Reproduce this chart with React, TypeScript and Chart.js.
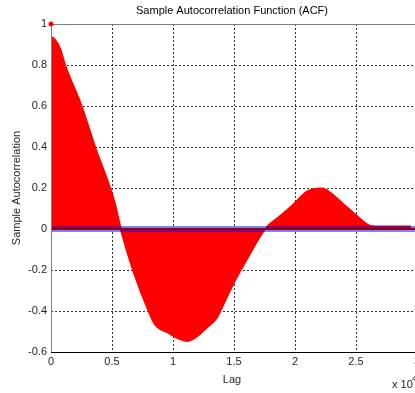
import React, { useEffect, useRef } from "react";
import { Chart, registerables } from "chart.js";

Chart.register(...registerables);

// Lags (x 10^4) and sample autocorrelation values
const lags = [0, 0.03, 0.074, 0.115, 0.25, 0.361, 0.484, 0.525, 0.572, 0.675, 0.806, 0.853, 0.962, 1.031, 1.113, 1.181, 1.277, 1.359, 1.413, 1.493, 1.605, 1.755, 1.879, 1.988, 2.098, 2.152, 2.221, 2.289, 2.398, 2.508, 2.617, 2.7, 2.8, 2.95];
const acf = [0.937, 0.925, 0.88, 0.8, 0.6, 0.4, 0.2, 0.12, 0, -0.205, -0.408, -0.465, -0.506, -0.53, -0.546, -0.53, -0.48, -0.433, -0.367, -0.268, -0.148, 0, 0.063, 0.12, 0.182, 0.194, 0.197, 0.177, 0.12, 0.063, 0.015, 0.012, 0.012, 0.012];
const lagZeroValue = 1;
const confBound = 0.01;
const xTicks = [0, 0.5, 1, 1.5, 2, 2.5, 3];
const yTicks = [-0.6, -0.4, -0.2, 0, 0.2, 0.4, 0.6, 0.8, 1];

const FONT = "'Liberation Sans', Arial, sans-serif";

const textPlugin = {
  id: "matlabText",
  beforeDatasetsDraw(chart: any) {
    const { ctx, chartArea } = chart;
    ctx.save();
    ctx.setLineDash([]);
    ctx.lineWidth = 1;
    ctx.strokeStyle = "#808080";
    ctx.beginPath();
    ctx.moveTo(chartArea.left, chartArea.top + 0.5);
    ctx.lineTo(chartArea.right, chartArea.top + 0.5);
    ctx.stroke();
    ctx.restore();
  },
  afterDraw(chart: any) {
    const { ctx, chartArea } = chart;
    ctx.save();
    ctx.setLineDash([]);
    ctx.lineWidth = 1;
    ctx.strokeStyle = "#808080";
    ctx.beginPath();
    ctx.moveTo(chartArea.left + 0.5, chartArea.top);
    ctx.lineTo(chartArea.left + 0.5, chartArea.bottom);
    ctx.stroke();
    ctx.strokeStyle = "#000";
    ctx.beginPath();
    ctx.moveTo(chartArea.left, chartArea.bottom + 0.5);
    ctx.lineTo(chartArea.right, chartArea.bottom + 0.5);
    ctx.stroke();

    // lag-0 marker drawn unclipped on top
    const xs = chart.scales.x, ys = chart.scales.y;
    ctx.fillStyle = "#ff0000";
    ctx.beginPath();
    ctx.arc(xs.getPixelForValue(0), ys.getPixelForValue(lagZeroValue), 2.5, 0, Math.PI * 2);
    ctx.fill();

    ctx.fillStyle = "#000";
    ctx.font = `11px ${FONT}`;
    ctx.textAlign = "center";
    ctx.textBaseline = "middle";
    const cx = (chartArea.left + chartArea.right) / 2 - 2;
    ctx.fillText("Sample Autocorrelation Function (ACF)", cx, 11);
    ctx.fillStyle = "#262626";
    ctx.fillText("Lag", cx, 380);
    ctx.textAlign = "left";
    ctx.fillText("x 10", 392, 385);
    ctx.font = `8px ${FONT}`;
    ctx.fillText("4", 412, 379);
    ctx.font = `11px ${FONT}`;
    ctx.translate(17, (chartArea.top + chartArea.bottom) / 2);
    ctx.rotate(-Math.PI / 2);
    ctx.textAlign = "center";
    ctx.fillText("Sample Autocorrelation", 0, 0);
    ctx.restore();
  },
};

export default function App() {
  const ref = useRef<HTMLCanvasElement>(null);
  useEffect(() => {
    if (!ref.current) return;
    const acfData = lags.map((x, i) => ({ x, y: acf[i] }));
    const chart = new Chart(ref.current, {
      type: "line",
      data: {
        datasets: [
          {
            label: "lag0",
            data: [{ x: 0, y: 0 }, { x: 0, y: lagZeroValue }],
            borderColor: "#ff6060",
            borderWidth: 1,
            pointRadius: 0,
            order: 0,
          },
          {
            label: "zero",
            data: [{ x: 0, y: 0 }, { x: 3, y: 0 }],
            borderColor: "#8b0000",
            borderWidth: 2,
            pointRadius: 0,
            order: 1,
          },
          {
            label: "upper",
            data: [{ x: 0, y: confBound }, { x: 3, y: confBound }],
            borderColor: "rgba(0,0,255,0.5)",
            borderWidth: 2,
            pointRadius: 0,
            order: 2,
          },
          {
            label: "lower",
            data: [{ x: 0, y: -confBound }, { x: 3, y: -confBound }],
            borderColor: "rgba(0,0,255,0.5)",
            borderWidth: 2,
            pointRadius: 0,
            order: 3,
          },
          {
            label: "acf",
            data: acfData,
            borderColor: "#ff0000",
            backgroundColor: "#ff0000",
            borderWidth: 2,
            fill: "origin",
            pointRadius: 0,
            cubicInterpolationMode: "monotone",
            order: 10,
          },
        ],
      },
      options: {
        animation: false,
        responsive: false,
        layout: { padding: { left: 0, top: 24, right: 13, bottom: 0 } },
        plugins: {
          legend: { display: false },
          tooltip: { enabled: false },
          title: { display: false },
        },
        scales: {
          x: {
            type: "linear",
            min: 0,
            max: 3,
            afterFit: (s: any) => { s.height = 41; },
            afterBuildTicks: (s: any) => { s.ticks = xTicks.map((v) => ({ value: v })); },
            ticks: {
              font: { family: FONT, size: 11 },
              color: "#262626",
              padding: 3,
              maxRotation: 0,
              autoSkip: false,
              callback: (v: any) => String(Number(Number(v).toFixed(1))),
            },
            grid: {
              drawTicks: false,
              color: (c: any) => (c.tick && c.tick.value > 0 && c.tick.value < 3 ? "#333" : "rgba(0,0,0,0)"),
            },
            border: { display: false, dash: [2, 2] },
          },
          y: {
            type: "linear",
            min: -0.6,
            max: 1,
            afterFit: (s: any) => { s.width = 51; },
            afterBuildTicks: (s: any) => { s.ticks = yTicks.map((v) => ({ value: v })); },
            ticks: {
              font: { family: FONT, size: 11 },
              color: "#262626",
              padding: 4,
              autoSkip: false,
              callback: (v: any) => String(Number(Number(v).toFixed(1))),
            },
            grid: {
              drawTicks: false,
              color: (c: any) => (c.tick && c.tick.value > -0.59 && c.tick.value < 0.99 ? "#333" : "rgba(0,0,0,0)"),
            },
            border: { display: false, dash: [2, 2] },
          },
        },
      } as any,
      plugins: [textPlugin],
    });
    return () => chart.destroy();
  }, []);

  return (
    <div style={{ position: "fixed", left: 0, top: 0, width: 415, height: 393, overflow: "hidden", background: "#fff" }}>
      <canvas ref={ref} width={430} height={393} style={{ width: 430, height: 393, display: "block" }} />
    </div>
  );
}
